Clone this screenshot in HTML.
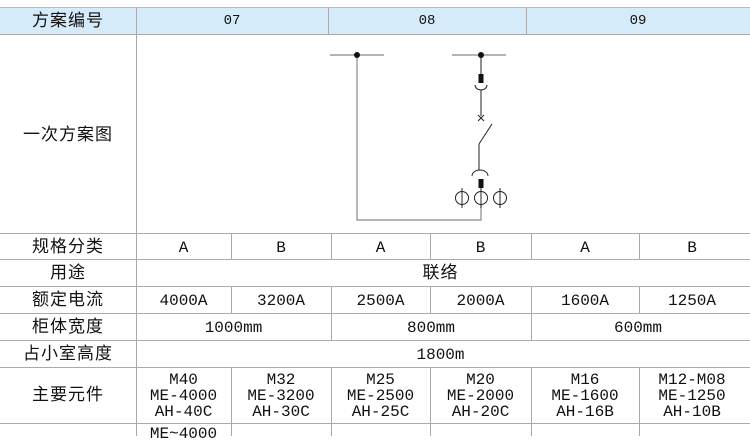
<!DOCTYPE html>
<html><head><meta charset="utf-8"><style>
body{margin:0;width:750px;height:436px;background:#fff;overflow:hidden;position:relative;font-family:"Liberation Mono","Noto Sans CJK SC",monospace;color:#111}
.t{position:absolute;text-align:center;font-size:16px;line-height:16px}
.h{position:absolute;background:#aaa;height:1px}
.v{position:absolute;background:#aaa;width:1px}
.c{font-family:"Liberation Sans","Noto Sans CJK SC",sans-serif;font-size:17px;line-height:17px;letter-spacing:1px}
.m{font-size:16px;line-height:16px}
</style></head><body>
<div style="position:absolute;left:0;top:7px;width:750px;height:27px;background:#d6ebf9"></div>
<div class="h" style="left:0;top:7px;width:750px;background:#bbb"></div>
<div class="h" style="left:0;top:34px;width:750px"></div>
<div class="h" style="left:0;top:233px;width:750px"></div>
<div class="h" style="left:0;top:259px;width:750px"></div>
<div class="h" style="left:0;top:286px;width:750px"></div>
<div class="h" style="left:0;top:313px;width:750px"></div>
<div class="h" style="left:0;top:340px;width:750px"></div>
<div class="h" style="left:0;top:367px;width:750px"></div>
<div class="h" style="left:0;top:423px;width:750px"></div>
<div class="v" style="left:136px;top:7px;height:429px"></div>
<div class="v" style="left:328px;top:7px;height:27px"></div>
<div class="v" style="left:526px;top:7px;height:27px"></div>
<div class="v" style="left:231px;top:233px;height:26px"></div>
<div class="v" style="left:231px;top:286px;height:27px"></div>
<div class="v" style="left:231px;top:367px;height:69px"></div>
<div class="v" style="left:331px;top:233px;height:26px"></div>
<div class="v" style="left:331px;top:286px;height:54px"></div>
<div class="v" style="left:331px;top:367px;height:69px"></div>
<div class="v" style="left:430px;top:233px;height:26px"></div>
<div class="v" style="left:430px;top:286px;height:27px"></div>
<div class="v" style="left:430px;top:367px;height:69px"></div>
<div class="v" style="left:531px;top:233px;height:26px"></div>
<div class="v" style="left:531px;top:286px;height:54px"></div>
<div class="v" style="left:531px;top:367px;height:69px"></div>
<div class="v" style="left:639px;top:233px;height:26px"></div>
<div class="v" style="left:639px;top:286px;height:27px"></div>
<div class="v" style="left:639px;top:367px;height:69px"></div>

<div class="t c" style="left:0;width:136px;top:12px">方案编号</div>
<div class="t" style="left:136px;width:192px;top:13px;font-size:14px">07</div>
<div class="t" style="left:328px;width:198px;top:13px;font-size:14px">08</div>
<div class="t" style="left:526px;width:224px;top:13px;font-size:14px">09</div>
<div class="t c" style="left:0;width:136px;top:126px">一次方案图</div>

<div class="t c" style="left:0;width:136px;top:238px">规格分类</div>
<div class="t" style="left:136px;width:95px;top:240px">A</div>
<div class="t" style="left:231px;width:100px;top:240px">B</div>
<div class="t" style="left:331px;width:99px;top:240px">A</div>
<div class="t" style="left:430px;width:101px;top:240px">B</div>
<div class="t" style="left:531px;width:108px;top:240px">A</div>
<div class="t" style="left:639px;width:106px;top:240px">B</div>
<div class="t c" style="left:0;width:136px;top:264px">用途</div>
<div class="t c" style="left:136px;width:609px;top:264px">联络</div>
<div class="t c" style="left:0;width:136px;top:291px">额定电流</div>
<div class="t" style="left:136px;width:95px;top:293px">4000A</div>
<div class="t" style="left:231px;width:100px;top:293px">3200A</div>
<div class="t" style="left:331px;width:99px;top:293px">2500A</div>
<div class="t" style="left:430px;width:101px;top:293px">2000A</div>
<div class="t" style="left:531px;width:108px;top:293px">1600A</div>
<div class="t" style="left:639px;width:106px;top:293px">1250A</div>
<div class="t c" style="left:0;width:136px;top:318px">柜体宽度</div>
<div class="t" style="left:136px;width:195px;top:320px">1000mm</div>
<div class="t" style="left:331px;width:200px;top:320px">800mm</div>
<div class="t" style="left:531px;width:214px;top:320px">600mm</div>
<div class="t c" style="left:0;width:136px;top:345px">占小室高度</div>
<div class="t" style="left:136px;width:609px;top:347px">1800m</div>
<div class="t c" style="left:0;width:136px;top:386px">主要元件</div>
<div class="t m" style="left:136px;width:95px;top:372px">M40<br>ME-4000<br>AH-40C</div>
<div class="t m" style="left:231px;width:100px;top:372px">M32<br>ME-3200<br>AH-30C</div>
<div class="t m" style="left:331px;width:99px;top:372px">M25<br>ME-2500<br>AH-25C</div>
<div class="t m" style="left:430px;width:101px;top:372px">M20<br>ME-2000<br>AH-20C</div>
<div class="t m" style="left:531px;width:108px;top:372px">M16<br>ME-1600<br>AH-16B</div>
<div class="t m" style="left:639px;width:106px;top:372px">M12-M08<br>ME-1250<br>AH-10B</div>
<div class="t m" style="left:136px;width:95px;top:426px">ME~4000</div>

<svg style="position:absolute;left:0;top:0" width="750" height="436">
<g stroke="#888" stroke-width="1.2" fill="none">
<line x1="330" y1="55" x2="384" y2="55"/>
<line x1="452" y1="55" x2="506" y2="55"/>
<polyline points="357,55 357,220 481,220 481,205"/>
</g>
<g stroke="#222" stroke-width="1" fill="none">
<line x1="481" y1="55" x2="481" y2="74"/>
<path d="M475,85 A6,5 0 0 0 487,85"/>
<line x1="481" y1="90" x2="481" y2="116"/>
<line x1="478" y1="115" x2="484" y2="121"/>
<line x1="484" y1="115" x2="478" y2="121"/>
<line x1="492" y1="124" x2="479" y2="144"/>
<line x1="479" y1="144" x2="479" y2="170"/>
<path d="M472,176 A8,6 0 0 1 488,176"/>
<circle cx="462" cy="198" r="6.5"/>
<circle cx="481" cy="198" r="6.5"/>
<circle cx="500" cy="198" r="6.5"/>
<line x1="462" y1="188" x2="462" y2="208"/>
<line x1="481" y1="188" x2="481" y2="208"/>
<line x1="500" y1="188" x2="500" y2="208"/>
</g>
<rect x="478.5" y="74" width="5" height="9" fill="#111"/>
<rect x="478.5" y="179" width="5" height="9" fill="#111"/>
<circle cx="357" cy="55" r="3" fill="#111"/>
<circle cx="481" cy="55" r="3" fill="#111"/>
</svg>
</body></html>
